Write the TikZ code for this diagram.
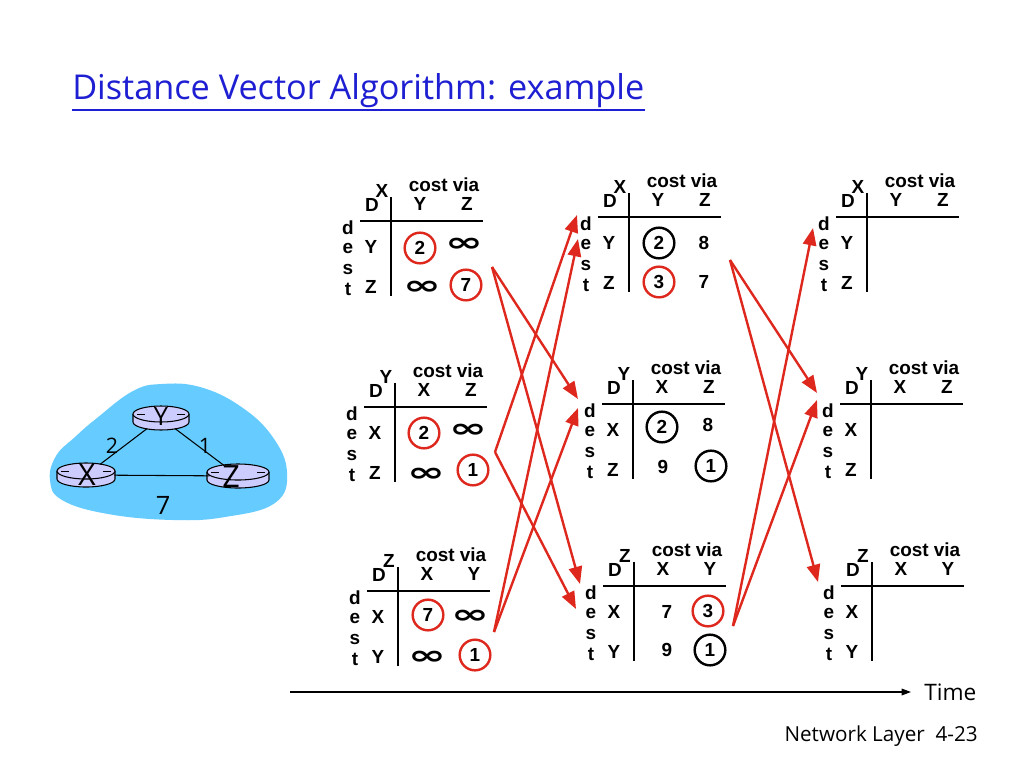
\documentclass[tikz,border=0pt]{standalone}
\usepackage{fontspec}
\setmainfont{Liberation Sans}
\newfontfamily\comic{Open Sans}
\newfontfamily\symfont{DejaVu Sans}
\usetikzlibrary{arrows.meta, shapes.geometric}
\definecolor{dvred}{RGB}{222,40,30}
\definecolor{titleblue}{RGB}{30,30,210}
\definecolor{cloudblue}{RGB}{102,204,255}
\definecolor{routerfill}{RGB}{204,204,255}
\tikzset{
  tt/.style={font=\fontsize{14.2}{16}\selectfont\bfseries, inner sep=0pt},
  tline/.style={line width=2.2pt, black},
  circR/.style={tt, circle, draw=dvred, line width=1.8pt, minimum size=23pt},
  circK/.style={tt, circle, draw=black, line width=1.8pt, minimum size=23pt},
  inf/.style={font=\symfont\bfseries\fontsize{22}{22}\selectfont, inner sep=0pt, xscale=1.55, yscale=0.9},
  upd/.style={dvred, line width=1.8pt, -{Triangle[length=13pt,width=10pt]}},
  rnode/.style={ellipse, minimum width=42pt, minimum height=18pt, inner sep=0pt},
  link/.style={line width=0.8pt, black},
  clab/.style={font=\comic\fontsize{16}{16}\selectfont, inner sep=0pt},
}
\newcommand\dvtable[9]{%
  \begin{scope}[shift={(#2,#3)}]
    \node[tt] (#1cv) at (53,-36) {cost via};
    \node[tt] (#1D) at (-19,-16) {D};
    \node[tt] (#1own) at (-9,-30) {#4};
    \node[tt] (#1c1) at (29,-17) {#5};
    \node[tt] (#1c2) at (76,-17) {#6};
    \node[tt] (#1d) at (-43,7) {d};
    \node[tt] (#1e) at (-43,27) {e};
    \node[tt] (#1s) at (-43,48) {s};
    \node[tt] (#1t) at (-43,68) {t};
    \node[tt] (#1r1) at (-20,26) {#7};
    \node[tt] (#1r2) at (-20,66) {#8};
    \draw[tline] (-31,0) -- (92,0);
    \draw[tline] (0,-24) -- (0,75);
    #9
  \end{scope}}
\newcommand\drawrouter[3]{%
  \fill[routerfill] ({#1-#3},{#2-4}) -- ({#1-#3},{#2+4})
     arc[start angle=180,end angle=0,x radius=#3,y radius=8] -- ({#1+#3},{#2-4}) -- cycle;
  \draw[line width=0.8pt] ({#1-#3},{#2-4}) -- ({#1-#3},{#2+4})
     arc[start angle=180,end angle=0,x radius=#3,y radius=8] -- ({#1+#3},{#2-4});
  \draw[fill=routerfill, line width=0.8pt] (#1,{#2-4}) ellipse[x radius=#3, y radius=8];
  \draw[line width=0.7pt] ({#1-#3+4},{#2-4}) -- ({#1-#3+12},{#2-4});
  \draw[line width=0.7pt] ({#1+#3-4},{#2-4}) -- ({#1+#3-12},{#2-4});
}
\begin{document}
\begin{tikzpicture}[x=0.75pt,y=-0.75pt]
\useasboundingbox (0,0) rectangle (1024,768);
\fill[white] (0,0) rectangle (1024,768);

% title
\node[anchor=west, inner sep=0pt, text=titleblue] (title) at (72,91)
  {\resizebox{429pt}{!}{\comic Distance Vector Algorithm: example}};
\coordinate (ul0) at (72,110);
\coordinate (ul1) at (645,110);
\draw[titleblue, line width=1.2pt] (ul0) -- (ul1);

% network
\fill[cloudblue] plot[smooth cycle, tension=0.7] coordinates {
 (50,480) (56,456) (75,437) (97,418) (133,391) (162,384) (200,387)
 (240,406) (272,436) (287,472) (275,503) (225,517) (173,520) (108,514) (62,500)};
\drawrouter{161}{418}{28}
\drawrouter{86}{475}{29}
\drawrouter{238}{476}{31}
\node[rnode] (rY) at (161,418) {};
\node[rnode] (rX) at (86,475) {};
\node[rnode] (rZ) at (238,476) {};
\draw[link] (rY) -- (rX);
\draw[link] (rY) -- (rZ);
\draw[link] (rX) -- (rZ);
\node[font=\comic\fontsize{19}{19}\selectfont, inner sep=0pt] (lY) at (161,416) {Y};
\node[font=\comic\fontsize{23}{23}\selectfont, inner sep=0pt] (lX) at (87,475) {X};
\node[font=\comic\fontsize{23}{23}\selectfont, inner sep=0pt] (lZ) at (231,477) {Z};
\node[clab] (w2) at (112,446) {2};
\node[clab] (w1) at (205,446) {1};
\node[clab, font=\comic\fontsize{19}{19}\selectfont] (w7) at (163,505) {7};

% tables column 1
\dvtable{a}{391}{221}{X}{Y}{Z}{Y}{Z}{%
  \node[circR] (a11) at (29,27) {2};
  \node[inf] (a12) at (73,24) {∞};
  \node[inf] (a21) at (31,67) {∞};
  \node[circR] (a22) at (75,64) {7};}
\dvtable{b}{395}{407}{Y}{X}{Z}{X}{Z}{%
  \node[circR] (b11) at (29,26) {2};
  \node[inf] (b12) at (73,24) {∞};
  \node[inf] (b21) at (31,68) {∞};
  \node[circR] (b22) at (78,63) {1};}
\dvtable{c}{398}{591}{Z}{X}{Y}{X}{Y}{%
  \node[circR] (c11) at (30,24) {7};
  \node[inf] (c12) at (72,26) {∞};
  \node[inf] (c21) at (29,67) {∞};
  \node[circR] (c22) at (77,64) {1};}
% column 2
\dvtable{d}{629}{217}{X}{Y}{Z}{Y}{Z}{%
  \node[circK] (d11) at (30,26) {2};
  \node[tt] (d12) at (75,26) {8};
  \node[circR] (d21) at (30,65) {3};
  \node[tt] (d22) at (75,65) {7};}
\dvtable{e}{633}{404}{Y}{X}{Z}{X}{Z}{%
  \node[circK] (e11) at (29,23) {2};
  \node[tt] (e12) at (75,21) {8};
  \node[tt] (e21) at (30,63) {9};
  \node[circK] (e22) at (78,62) {1};}
\dvtable{f}{634}{586}{Z}{X}{Y}{X}{Y}{%
  \node[tt] (f11) at (33,26) {7};
  \node[circR] (f12) at (74,25) {3};
  \node[tt] (f21) at (33,64) {9};
  \node[circK] (f22) at (76,64) {1};}
% column 3
\dvtable{g}{867}{217}{X}{Y}{Z}{Y}{Z}{}
\dvtable{h}{871}{404}{Y}{X}{Z}{X}{Z}{}
\dvtable{i}{872}{586}{Z}{X}{Y}{X}{Y}{}

% update arrows, round 1
\coordinate (aout) at (492,267);
\coordinate (bout) at (495,452);
\coordinate (cout) at (494,632);
\coordinate (ein1) at (578,399);
\coordinate (fin1) at (580,584);
\coordinate (din1) at (577,215);
\coordinate (fin2) at (576,609);
\coordinate (din2) at (578,239);
\coordinate (ein2) at (578,408);
\draw[upd] (aout) -- (ein1);
\draw[upd] (aout) -- (fin1);
\draw[upd] (bout) -- (din1);
\draw[upd] (bout) -- (fin2);
\draw[upd] (cout) -- (din2);
\draw[upd] (cout) -- (ein2);
% round 2
\coordinate (dout) at (730,260);
\coordinate (fout) at (733,626);
\coordinate (hin1) at (817,393);
\coordinate (iin1) at (818,582);
\coordinate (gin1) at (813,228);
\coordinate (hin2) at (817,400);
\draw[upd] (dout) -- (hin1);
\draw[upd] (dout) -- (iin1);
\draw[upd] (fout) -- (gin1);
\draw[upd] (fout) -- (hin2);

% time axis
\coordinate (t0) at (290,692);
\coordinate (t1) at (911,692);
\draw[line width=0.9pt, -{Triangle[length=7pt,width=5pt]}] (t0) -- (t1);
\node[anchor=west, font=\comic\fontsize{17}{17}\selectfont, inner sep=0pt] (time) at (924,692) {Time};
\node[anchor=east, font=\comic\fontsize{15.5}{15.5}\selectfont, inner sep=0pt] (footer) at (978,736) {Network Layer\ \ 4-23};
\end{tikzpicture}
\end{document}
